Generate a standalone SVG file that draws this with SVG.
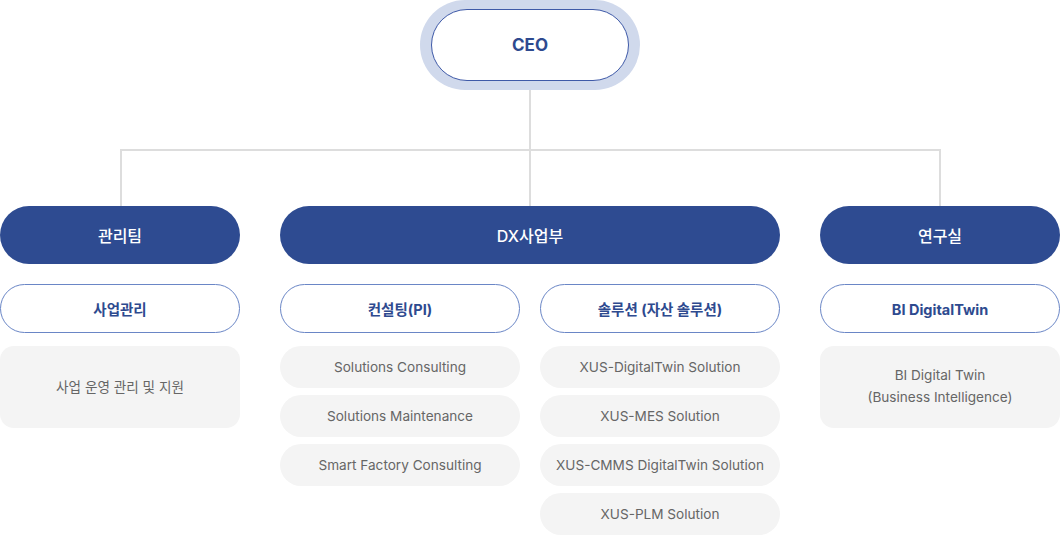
<svg xmlns="http://www.w3.org/2000/svg" width="1060" height="535" viewBox="0 0 1060 535">
<style>
text{font-family:Inter,"Noto Sans CJK KR",sans-serif;text-anchor:middle;dominant-baseline:central}
.l2{fill:#2e4b91}
.l2t{fill:#fff;font-size:16px;font-weight:500}
.l3{fill:#fff;stroke:#6a86c6;stroke-width:1}
.l3t{fill:#2e4a8f;font-size:14.5px;font-weight:700}
.l4{fill:#f4f4f4}
.l4t{fill:#666;font-size:13.6px}
.conn{fill:none;stroke:#dddddd;stroke-width:2}
</style>
<g id="connectors">
<path class="conn" d="M530 88V206M121 150H940M121 149V206M940 149V206"/>
</g>
<g id="ceo">
<rect x="420" y="0" width="220" height="90" rx="45" fill="#d0d9ec"/>
<rect x="431.5" y="9.5" width="197" height="71" rx="35.5" fill="#fff" stroke="#3f5aa8" stroke-width="1"/>
<text x="530" y="45" fill="#2e4a8f" font-size="17" font-weight="700">CEO</text>
</g>
<g id="team-mgmt">
<rect class="l2" x="0" y="206" width="240" height="58" rx="29"/>
<text class="l2t" x="120" y="236">관리팀</text>
</g>
<g id="team-dx">
<rect class="l2" x="280" y="206" width="500" height="58" rx="29"/>
<text class="l2t" x="530" y="236">DX사업부</text>
</g>
<g id="team-lab">
<rect class="l2" x="820" y="206" width="240" height="58" rx="29"/>
<text class="l2t" x="940" y="236">연구실</text>
</g>
<g id="sub-mgmt">
<rect class="l3" x="0.5" y="284.5" width="239" height="48" rx="24"/>
<text class="l3t" x="120" y="309">사업관리</text>
</g>
<g id="sub-consulting">
<rect class="l3" x="280.5" y="284.5" width="239" height="48" rx="24"/>
<text class="l3t" x="400" y="309">컨설팅(PI)</text>
</g>
<g id="sub-solution">
<rect class="l3" x="540.5" y="284.5" width="239" height="48" rx="24"/>
<text class="l3t" x="660" y="309">솔루션 (자산 솔루션)</text>
</g>
<g id="sub-bi">
<rect class="l3" x="820.5" y="284.5" width="239" height="48" rx="24"/>
<text class="l3t" x="940" y="309">BI DigitalTwin</text>
</g>
<g id="item-mgmt">
<rect class="l4" x="0" y="346" width="240" height="82" rx="14"/>
<text class="l4t" x="120" y="387">사업 운영 관리 및 지원</text>
</g>
<g id="item-c1">
<rect class="l4" x="280" y="346" width="240" height="42" rx="21"/>
<text class="l4t" x="400" y="367">Solutions Consulting</text>
</g>
<g id="item-c2">
<rect class="l4" x="280" y="395" width="240" height="42" rx="21"/>
<text class="l4t" x="400" y="416">Solutions Maintenance</text>
</g>
<g id="item-c3">
<rect class="l4" x="280" y="444" width="240" height="42" rx="21"/>
<text class="l4t" x="400" y="465">Smart Factory Consulting</text>
</g>
<g id="item-s1">
<rect class="l4" x="540" y="346" width="240" height="42" rx="21"/>
<text class="l4t" x="660" y="367">XUS-DigitalTwin Solution</text>
</g>
<g id="item-s2">
<rect class="l4" x="540" y="395" width="240" height="42" rx="21"/>
<text class="l4t" x="660" y="416">XUS-MES Solution</text>
</g>
<g id="item-s3">
<rect class="l4" x="540" y="444" width="240" height="42" rx="21"/>
<text class="l4t" x="660" y="465">XUS-CMMS DigitalTwin Solution</text>
</g>
<g id="item-s4">
<rect class="l4" x="540" y="493" width="240" height="42" rx="21"/>
<text class="l4t" x="660" y="514">XUS-PLM Solution</text>
</g>
<g id="item-bi">
<rect class="l4" x="820" y="346" width="240" height="82" rx="14"/>
<text class="l4t" x="940" y="375">BI Digital Twin</text>
<text class="l4t" x="940" y="397">(Business Intelligence)</text>
</g>
</svg>
